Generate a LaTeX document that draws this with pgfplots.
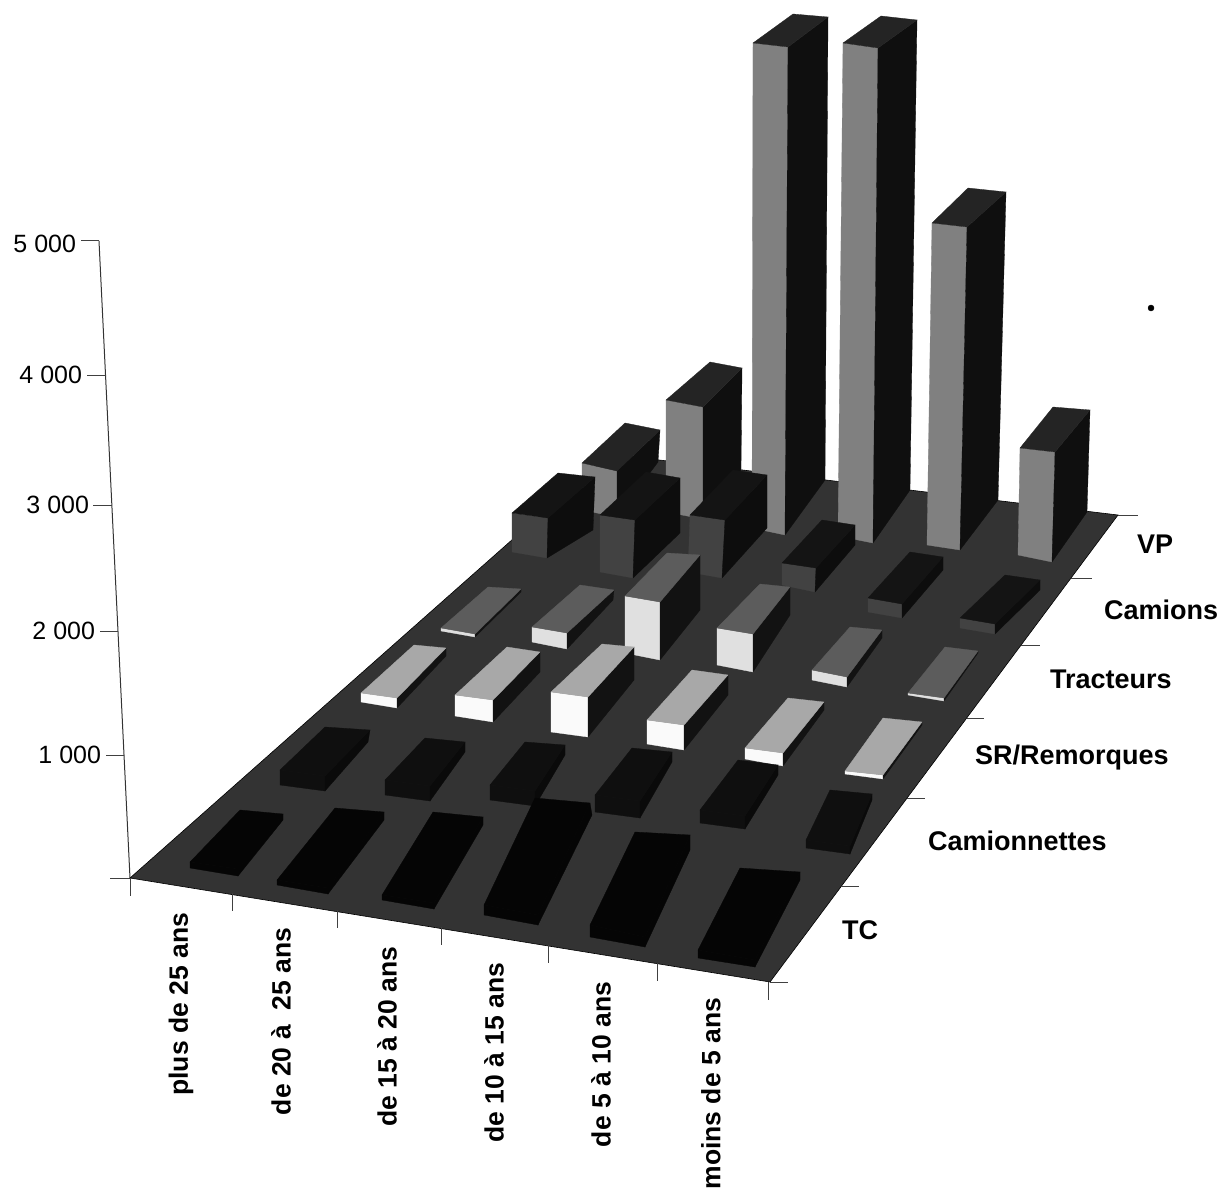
\documentclass[border=0pt]{standalone}
\usepackage{fontspec}
\setmainfont{Liberation Sans}
\usepackage{pgfplots}
\pgfplotsset{compat=1.18}
\definecolor{flr}{gray}{0.20}
\definecolor{vpf}{gray}{0.50}\definecolor{vps}{gray}{0.06}\definecolor{vpt}{gray}{0.14}
\definecolor{cf}{gray}{0.26}\definecolor{cs}{gray}{0.05}\definecolor{ct}{gray}{0.08}
\definecolor{tf}{gray}{0.88}\definecolor{ts}{gray}{0.07}\definecolor{tt}{gray}{0.36}
\definecolor{sf}{gray}{0.98}\definecolor{ss}{gray}{0.07}\definecolor{st}{gray}{0.66}
\definecolor{kf}{gray}{0.06}\definecolor{ks}{gray}{0.04}\definecolor{kt}{gray}{0.06}
\definecolor{bf}{gray}{0.02}\definecolor{bs}{gray}{0.02}\definecolor{bt}{gray}{0.02}
% one bar: front, side, top faces; points are FBL FBR FTR FTL BTL BTR BBR
\newcommand\bx[8]{%
\addplot[fill=#1f,draw=#1f,line width=0.3pt] coordinates {#2 #3 #4 #5} -- cycle;
\addplot[fill=#1s,draw=#1s,line width=0.3pt] coordinates {#3 #4 #7 #8} -- cycle;
\addplot[fill=#1t,draw=#1t,line width=0.3pt] coordinates {#5 #4 #7 #6} -- cycle;
}
\newcommand\tk[2]{\addplot[black!75,line width=1pt] coordinates {#1 #2};}
\begin{document}
\begin{tikzpicture}
\begin{axis}[
  width=1221pt,height=1190pt,scale only axis,
  xmin=0,xmax=1221,ymin=0,ymax=1190,y dir=reverse,
  axis lines=none,clip=false,
  every axis plot/.append style={mark=none,forget plot},
  nodes={inner sep=0pt,outer sep=0pt}
]
% full page extent
\addplot[draw=none] coordinates {(0,0) (1221,1190)};
% vertical axis and ticks
\addplot[black!80,line width=1pt] coordinates {(99,241) (130,878)};
\tk{(81,241)}{(99,241)} \tk{(87,375)}{(106,375)} \tk{(93,505)}{(112,505)}
\tk{(100,631)}{(118,631)} \tk{(106,755)}{(124,755)} \tk{(110,878)}{(130,878)}
% floor
\addplot[fill=flr,draw=black,line width=0.6pt] coordinates {(130,878) (770,982) (1118,515) (609,454)} -- cycle;
% floor ticks
\tk{(130,878)}{(130,896)} \tk{(232,893)}{(232,911)} \tk{(337,910)}{(337,928)} \tk{(441,927)}{(441,945)}
\tk{(548,945)}{(548,963)} \tk{(657,963)}{(657,981)} \tk{(768,982)}{(768,1000)}
\tk{(770,982)}{(788,982)} \tk{(841,886)}{(859,886)} \tk{(907,798)}{(925,798)} \tk{(967,718)}{(984,718)}
\tk{(1021,645)}{(1040,645)} \tk{(1071,578)}{(1092,578)} \tk{(1118,515)}{(1138,515)}
% VP
\bx{vp}{(582,510)}{(617,517)}{(617,471)}{(582,463)}{(625,423)}{(660,430)}{(658,462)}
\bx{vp}{(666,512)}{(703,519)}{(703,407)}{(666,400)}{(710,362)}{(742,368)}{(741,470)}
\bx{vp}{(752,528)}{(785,535)}{(788,47)}{(753,43)}{(793,14)}{(828,17)}{(825,480)}
\bx{vp}{(838,536)}{(873,543)}{(878,48)}{(843,43)}{(881,16)}{(917,20)}{(910,490)}
\bx{vp}{(927,545)}{(960,550)}{(967,227)}{(932,223)}{(968,188)}{(1006,192)}{(998,500)}
\bx{vp}{(1018,555)}{(1052,562)}{(1055,452)}{(1020,448)}{(1053,407)}{(1090,410)}{(1087,512)}
% Camions
\bx{c}{(512,552)}{(547,558)}{(548,518)}{(512,513)}{(558,473)}{(595,477)}{(593,530)}
\bx{c}{(600,572)}{(633,578)}{(635,520)}{(600,515)}{(646,472)}{(680,478)}{(680,533)}
\bx{c}{(688,572)}{(722,578)}{(725,520)}{(690,515)}{(733,470)}{(767,475)}{(767,528)}
\bx{c}{(782,585)}{(815,592)}{(816,568)}{(782,563)}{(822,520)}{(855,525)}{(855,545)}
\bx{c}{(868,612)}{(902,618)}{(902,604)}{(868,598)}{(910,552)}{(943,557)}{(943,570)}
\bx{c}{(960,628)}{(995,634)}{(995,624)}{(960,618)}{(1005,575)}{(1040,580)}{(1040,590)}
% Tracteurs
\bx{t}{(441,631)}{(475,637)}{(475,634)}{(441,628)}{(488,587)}{(521,589)}{(521,592)}
\bx{t}{(532,642)}{(567,649)}{(567,633)}{(532,627)}{(580,585)}{(614,590)}{(613,600)}
\bx{t}{(625,653)}{(660,660)}{(660,602)}{(625,596)}{(667,553)}{(700,555)}{(700,610)}
\bx{t}{(717,665)}{(753,672)}{(753,634)}{(717,628)}{(760,584)}{(790,587)}{(790,615)}
\bx{t}{(812,680)}{(847,687)}{(847,677)}{(812,670)}{(850,627)}{(882,630)}{(882,638)}
\bx{t}{(908,695)}{(944,701)}{(944,698)}{(908,693)}{(945,647)}{(978,651)}{(978,653)}
% SR/Remorques
\bx{s}{(361,702)}{(397,708)}{(397,698)}{(361,693)}{(414,645)}{(446,648)}{(446,656)}
\bx{s}{(455,716)}{(493,722)}{(493,700)}{(455,695)}{(507,647)}{(540,652)}{(540,672)}
\bx{s}{(551,732)}{(588,737)}{(588,697)}{(551,692)}{(602,644)}{(634,647)}{(634,680)}
\bx{s}{(647,744)}{(684,750)}{(684,725)}{(647,720)}{(692,670)}{(728,675)}{(728,695)}
\bx{s}{(745,759)}{(783,766)}{(783,753)}{(745,748)}{(788,698)}{(824,702)}{(824,710)}
\bx{s}{(845,774)}{(883,779)}{(883,775)}{(845,771)}{(883,718)}{(922,722)}{(922,725)}
% Camionnettes
\bx{k}{(280,785)}{(325,791)}{(325,776)}{(280,770)}{(325,727)}{(370,730)}{(368,742)}
\bx{k}{(385,795)}{(430,801)}{(430,786)}{(385,780)}{(425,738)}{(465,742)}{(465,752)}
\bx{k}{(490,800)}{(535,806)}{(535,791)}{(490,785)}{(525,742)}{(565,745)}{(565,755)}
\bx{k}{(595,812)}{(640,818)}{(640,801)}{(595,795)}{(632,748)}{(672,752)}{(672,762)}
\bx{k}{(700,823)}{(745,829)}{(745,816)}{(700,810)}{(738,760)}{(778,765)}{(778,775)}
\bx{k}{(806,848)}{(850,854)}{(850,846)}{(806,840)}{(830,790)}{(872,794)}{(872,800)}
% TC
\bx{b}{(190,868)}{(238,876)}{(238,869)}{(190,862)}{(240,810)}{(283,814)}{(283,820)}
\bx{b}{(277,885)}{(328,894)}{(328,888)}{(277,880)}{(335,808)}{(384,812)}{(384,820)}
\bx{b}{(382,900)}{(434,909)}{(434,903)}{(382,895)}{(433,812)}{(483,817)}{(483,825)}
\bx{b}{(484,915)}{(538,925)}{(538,915)}{(484,905)}{(535,798)}{(590,803)}{(592,815)}
\bx{b}{(590,937)}{(645,947)}{(645,937)}{(590,925)}{(635,832)}{(690,835)}{(690,850)}
\bx{b}{(698,958)}{(755,967)}{(755,960)}{(698,950)}{(740,868)}{(800,872)}{(800,880)}
% scan speck
\addplot[only marks,mark=*,mark size=3pt,black] coordinates {(1151,308)};
% value labels
\node[anchor=east,font=\fontsize{25}{25}\selectfont] at (axis cs:76,244) {5 000};
\node[anchor=east,font=\fontsize{25}{25}\selectfont] at (axis cs:82,375) {4 000};
\node[anchor=east,font=\fontsize{25}{25}\selectfont] at (axis cs:89,505) {3 000};
\node[anchor=east,font=\fontsize{25}{25}\selectfont] at (axis cs:95,631) {2 000};
\node[anchor=east,font=\fontsize{25}{25}\selectfont] at (axis cs:101,755) {1 000};
% age labels
\def\xl#1#2#3{\node[rotate=90,anchor=east,font=\fontsize{26.5}{26.5}\bfseries\selectfont] at (axis cs:#1,#2) {#3};}
\xl{181}{913}{plus de 25 ans}
\xl{281}{928}{de 20 à\ \ 25 ans}
\xl{387}{947}{de 15 à 20 ans}
\xl{494}{963}{de 10 à 15 ans}
\xl{601}{982}{de 5 à 10 ans}
\xl{711}{998}{moins de 5 ans}
% type labels
\def\yl#1#2#3{\node[anchor=west,font=\fontsize{27}{27}\bfseries\selectfont] at (axis cs:#1,#2) {#3};}
\yl{842}{930}{TC}
\yl{928}{841}{Camionnettes}
\yl{975}{758}{SR/Remorques}
\yl{1050}{679}{Tracteurs}
\yl{1104}{610}{Camions}
\yl{1137}{544}{VP}
\end{axis}
\end{tikzpicture}
\end{document}
